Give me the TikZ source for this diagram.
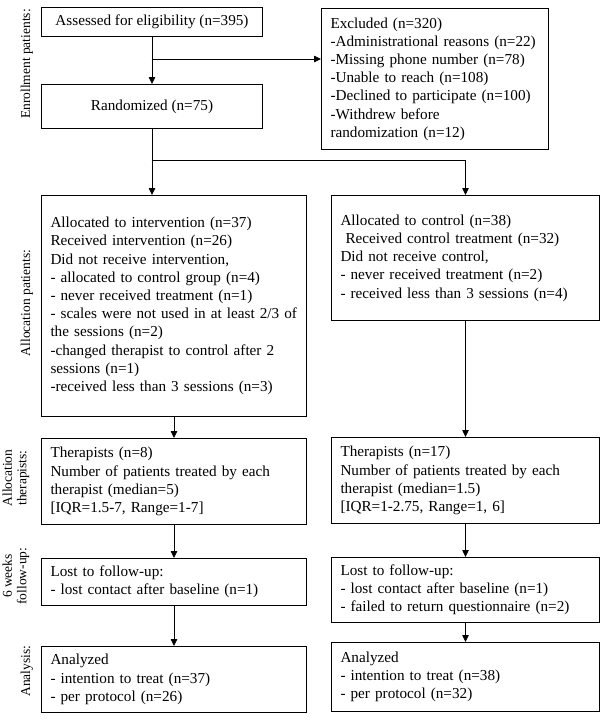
\documentclass[tikz,border=0pt]{standalone}
\usepackage{fontspec}
\setmainfont{Liberation Serif}
\usetikzlibrary{arrows.meta,positioning}

\begin{document}
\begin{tikzpicture}[x=1pt, y=-1pt,
  box/.style={rectangle, draw, line width=1pt, inner xsep=9pt, inner ysep=0pt,
              font=\fontsize{15.2}{18.2}\selectfont, align=left},
  lbox/.style={box, text width=247pt},
  rbox/.style={box, text width=250pt},
  cbox/.style={box, align=center, minimum width=221pt},
  arr/.style={-{Triangle[length=7pt,width=6.5pt]}, line width=0.8pt},
  phase/.style={rotate=90, font=\fontsize{13.5}{14.5}\selectfont, align=center}
]
  \useasboundingbox (0,0) rectangle (600,723);

  % enrollment
  \node[cbox, minimum height=29pt, anchor=north west] (assess) at (41,7)
    {Assessed for eligibility (n=395)};
  \node[cbox, minimum height=44pt, below=47pt of assess] (rand)
    {Randomized (n=75)};
  \node[box, text width=209pt, minimum height=141pt, anchor=north west] (excl) at (321,8)
    {Excluded (n=320)\\-Administrational reasons (n=22)\\-Missing phone number (n=78)\\
     -Unable to reach (n=108)\\-Declined to participate (n=100)\\-Withdrew before\\
     randomization (n=12)};

  % allocation
  \node[lbox, minimum height=221pt, below=66pt of rand.south west, anchor=north west] (alloci)
    {Allocated to intervention (n=37)\\Received intervention (n=26)\\
     Did not receive intervention,\\- allocated to control group (n=4)\\
     - never received treatment (n=1)\\- scales were not used in at least 2/3 of\\
     the sessions (n=2)\\-changed therapist to control after 2\\sessions (n=1)\\
     -received less than 3 sessions (n=3)};
  \node[rbox, minimum height=125pt, right=24pt of alloci.north east, anchor=north west] (allocc)
    {Allocated to control (n=38)\\\ Received control treatment (n=32)\\
     Did not receive control,\\- never received treatment (n=2)\\
     - received less than 3 sessions (n=4)};

  % therapists, follow-up, analysis
  \node[lbox, minimum height=86pt, below=21pt of alloci] (theri)
    {Therapists (n=8)\\Number of patients treated by each\\therapist (median=5)\\
     {[}IQR=1.5-7, Range=1-7]};
  \node[lbox, minimum height=47pt, below=33pt of theri] (losti)
    {Lost to follow-up:\\- lost contact after baseline (n=1)};
  \node[lbox, minimum height=66pt, below=40pt of losti] (anai)
    {Analyzed\\- intention to treat (n=37)\\- per protocol (n=26)};
  \node[rbox, minimum height=86pt, below=116pt of allocc] (therc)
    {Therapists (n=17)\\Number of patients treated by each\\therapist (median=1.5)\\
     {[}IQR=1-2.75, Range=1, 6]};
  \node[rbox, minimum height=65pt, below=33pt of therc] (lostc)
    {Lost to follow-up:\\- lost contact after baseline (n=1)\\
     - failed to return questionnaire (n=2)};
  \node[rbox, minimum height=69pt, below=19pt of lostc] (anac)
    {Analyzed\\- intention to treat (n=38)\\- per protocol (n=32)};

  % phase labels
  \node[phase] (enrol) at (27,64) {Enrollment patients:};
  \node[phase] (allocp) at (27,303) {Allocation patients:};
  \node[phase] (allocth) at (16,478) {Allocation\\therapists:};
  \node[phase] (followup) at (16,576) {6 weeks\\follow-up:};
  \node[phase] (analysis) at (27,671) {Analysis:};

  % connectors
  \coordinate (exsplit) at (151.5,59);
  \coordinate (allocsplit) at (151.5,160);
  \draw[arr] (assess) -- (rand);
  \draw[arr] (exsplit) -- (exsplit -| excl.west);
  \draw[arr] (rand.south) -- (rand.south |- alloci.north);
  \draw[arr] (allocsplit) -| (allocc.north);
  \draw[arr] (alloci) -- (theri);
  \draw[arr] (theri) -- (losti);
  \draw[arr] (losti) -- (anai);
  \draw[arr] (allocc) -- (therc);
  \draw[arr] (therc) -- (lostc);
  \draw[arr] (lostc) -- (anac);
\end{tikzpicture}
\end{document}
